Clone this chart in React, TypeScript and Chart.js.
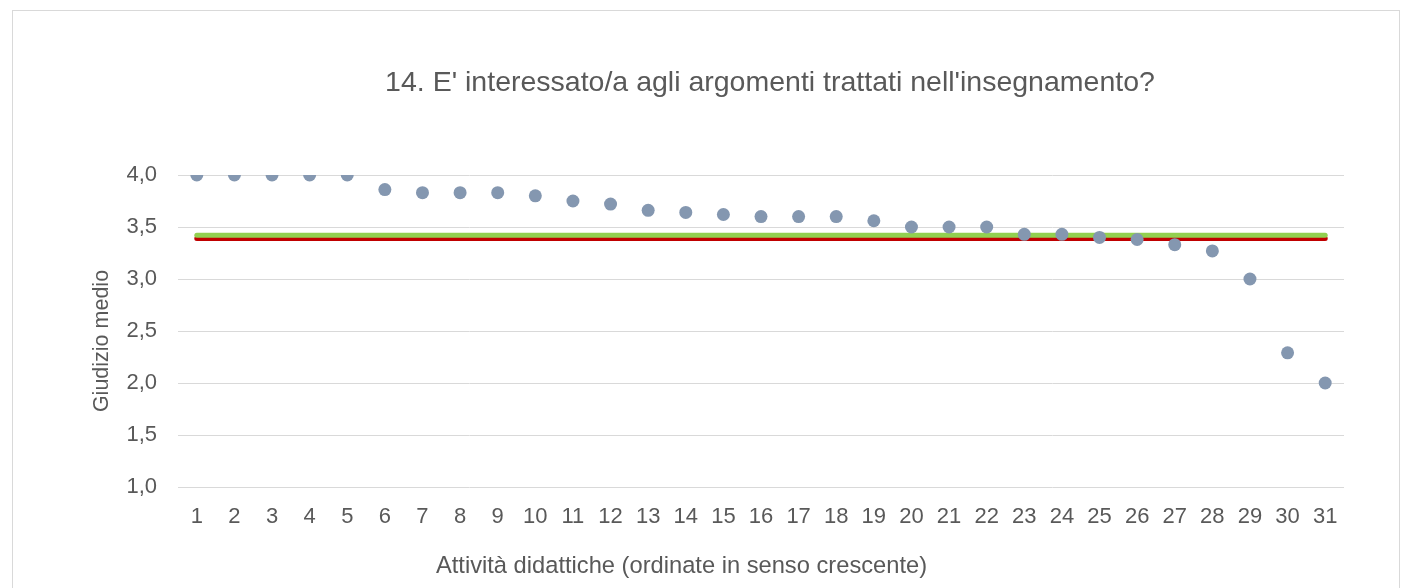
import React, { useEffect, useRef } from "react";
import { Chart, registerables } from "chart.js";

Chart.register(...registerables);

const chartTitle = "14. E' interessato/a agli argomenti trattati nell'insegnamento?";
const xAxisTitle = "Attività didattiche (ordinate in senso crescente)";
const yAxisTitle = "Giudizio medio";

const categories = [
  "1", "2", "3", "4", "5", "6", "7", "8", "9", "10",
  "11", "12", "13", "14", "15", "16", "17", "18", "19", "20",
  "21", "22", "23", "24", "25", "26", "27", "28", "29", "30", "31",
];

const averageScores = [
  4.0, 4.0, 4.0, 4.0, 4.0, 3.86, 3.83, 3.83, 3.83, 3.8,
  3.75, 3.72, 3.66, 3.64, 3.62, 3.6, 3.6, 3.6, 3.56, 3.5,
  3.5, 3.5, 3.43, 3.43, 3.4, 3.38, 3.33, 3.27, 3.0, 2.29, 2.0,
];

const greenLineValue = 3.42;
const redLineValue = 3.39;

const yTicksMin = 1.0;
const yTicksMax = 4.0;
const yTicksStep = 0.5;

const FONT = '"Liberation Sans", Arial, sans-serif';
const TEXT = "#595959";
const GRID = "#d9d9d9";

const textPlugin = {
  id: "textPlugin",
  afterDraw(chart: any) {
    const ctx = chart.ctx;
    ctx.save();
    ctx.fillStyle = TEXT;
    ctx.textAlign = "center";
    ctx.textBaseline = "middle";
    // chart title
    ctx.font = `28.5px ${FONT}`;
    ctx.fillText(chartTitle, 757, 72);
    // x axis title
    ctx.font = `23.7px ${FONT}`;
    ctx.fillText(xAxisTitle, 668.5, 555);
    // y axis title
    ctx.translate(89, 330);
    ctx.rotate(-Math.PI / 2);
    ctx.font = `21.5px ${FONT}`;
    ctx.fillText(yAxisTitle, 0, 0);
    ctx.restore();
  },
};

export default function App() {
  const ref = useRef<HTMLCanvasElement | null>(null);

  useEffect(() => {
    if (!ref.current) return;
    const first = categories[0];
    const last = categories[categories.length - 1];
    const chart = new Chart(ref.current, {
      type: "line",
      data: {
        labels: categories,
        datasets: [
          {
            label: "Giudizio medio",
            data: averageScores,
            showLine: false,
            pointRadius: 6.5,
            pointHoverRadius: 6.5,
            pointBackgroundColor: "#8497b0",
            pointBorderColor: "#8497b0",
            pointBorderWidth: 0,
            borderColor: "#8497b0",
          },
          {
            label: "Media",
            data: [
              { x: first, y: greenLineValue },
              { x: last, y: greenLineValue },
            ],
            borderColor: "#92d050",
            borderWidth: 5,
            borderCapStyle: "round",
            pointRadius: 0,
            fill: false,
          },
          {
            label: "Media 2",
            data: [
              { x: first, y: redLineValue },
              { x: last, y: redLineValue },
            ],
            borderColor: "#c00000",
            borderWidth: 5,
            borderCapStyle: "round",
            pointRadius: 0,
            fill: false,
          },
        ],
      } as any,
      options: {
        responsive: false,
        animation: false,
        layout: { padding: { left: 0, right: 55, top: 164, bottom: 0 } },
        plugins: {
          legend: { display: false },
          tooltip: { enabled: false },
          title: { display: false },
        },
        scales: {
          x: {
            type: "category",
            offset: true,
            grid: { display: false, drawTicks: false },
            border: { display: false },
            ticks: {
              color: TEXT,
              font: { family: FONT, size: 22 },
              padding: 17,
              maxRotation: 0,
              autoSkip: false,
            },
            afterFit(scale: any) {
              scale.height = 122;
            },
          },
          y: {
            min: yTicksMin,
            max: yTicksMax,
            grid: { color: GRID, lineWidth: 1, drawTicks: false },
            border: { display: false },
            ticks: {
              stepSize: yTicksStep,
              color: TEXT,
              font: { family: FONT, size: 22 },
              padding: 21,
              callback: (v: any) => Number(v).toFixed(1).replace(".", ","),
            },
            afterFit(scale: any) {
              scale.width = 165;
            },
          },
        },
      } as any,
      plugins: [textPlugin],
    });
    return () => chart.destroy();
  }, []);

  return (
    <div
      style={{
        position: "fixed",
        left: 12,
        top: 10,
        width: 1388,
        height: 600,
        border: "1px solid #d9d9d9",
        boxSizing: "border-box",
        background: "#fff",
      }}
    >
      <canvas ref={ref} width={1386} height={598} style={{ display: "block" }} />
    </div>
  );
}
